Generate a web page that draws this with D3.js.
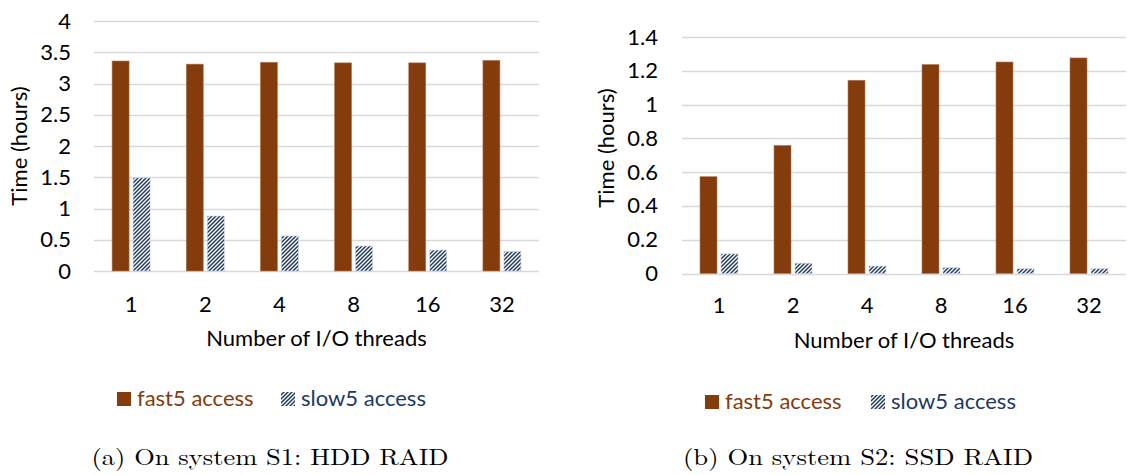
<!DOCTYPE html>
<html><head><meta charset="utf-8">
<script src="https://cdn.jsdelivr.net/npm/d3@7"></script>
<style>
body{margin:0;background:#fff;}
svg{display:block;}
</style></head>
<body>
<svg id="c" width="1127" height="475"></svg>
<script>
const categories = ["1","2","4","8","16","32"];
const s1Fast5 = [3.36, 3.31, 3.34, 3.33, 3.33, 3.37];
const s1Slow5 = [1.49, 0.88, 0.56, 0.40, 0.335, 0.31];
const s2Fast5 = [0.573, 0.758, 1.144, 1.237, 1.252, 1.276];
const s2Slow5 = [0.116, 0.061, 0.044, 0.034, 0.028, 0.028];
const s1Ticks = [0,0.5,1,1.5,2,2.5,3,3.5,4];
const s2Ticks = [0,0.2,0.4,0.6,0.8,1,1.2,1.4];
const seriesNames = ["fast5 access","slow5 access"];
const captions = ["(a) On system S1: HDD RAID","(b) On system S2: SSD RAID"];
const xTitle = "Number of I/O threads";
const yTitle = "Time (hours)";

const FAST = "#843C0C", SLOW = "#203864";
const FONT = "Lato, 'Open Sans', sans-serif";
const FS = 22;
const svg = d3.select("#c");

const defs = svg.append("defs");
const pat = defs.append("pattern").attr("id","hatch").attr("patternUnits","userSpaceOnUse")
  .attr("width",4).attr("height",4);
pat.append("rect").attr("width",4).attr("height",4).attr("fill","#fff");
pat.append("path").attr("d","M-1,1 l2,-2 M0,4 l4,-4 M3,5 l2,-2")
  .attr("stroke",SLOW).attr("stroke-width",1.5);

function chart(cfg){
  const g = svg.append("g");
  const x = d3.scaleBand().domain(categories).range([cfg.x0, cfg.x1]);
  const y = d3.scaleLinear().domain([0, cfg.ymax]).range([cfg.yb, cfg.yt]);
  g.selectAll(".grid").data(cfg.ticks).join("line")
    .attr("x1",cfg.x0).attr("x2",cfg.x1)
    .attr("y1",d=>Math.round(y(d))+0.5).attr("y2",d=>Math.round(y(d))+0.5)
    .attr("stroke","#d9d9d9").attr("stroke-width",1.5);
  const ya = d3.axisLeft(y).tickValues(cfg.ticks).tickSize(0).tickPadding(0)
    .tickFormat(d=>String(d));
  const yg = g.append("g").attr("transform",`translate(${cfg.ylabX},0)`).call(ya);
  yg.select(".domain").remove();
  yg.selectAll("text").attr("font-family",FONT).attr("font-size",FS).attr("fill","#000");
  const xa = d3.axisBottom(x).tickSize(0).tickPadding(0);
  const xg = g.append("g").attr("transform",`translate(0,${cfg.xlabY})`).call(xa);
  xg.select(".domain").remove();
  xg.selectAll("text").attr("font-family",FONT).attr("font-size",FS).attr("fill","#000").attr("dy","0.32em");
  const bw = 17, gap = 4;
  const mid = c => x(c) + x.bandwidth()/2;
  g.selectAll(".f").data(cfg.fast).join("rect")
    .attr("x",(d,i)=>mid(categories[i]) - gap/2 - bw)
    .attr("width",bw).attr("y",d=>y(d)).attr("height",d=>y(0)-y(d))
    .attr("fill",FAST).attr("stroke","#b07a58").attr("stroke-width",0.6);
  g.selectAll(".s").data(cfg.slow).join("rect")
    .attr("x",(d,i)=>mid(categories[i]) + gap/2)
    .attr("width",bw).attr("y",d=>y(d)).attr("height",d=>y(0)-y(d))
    .attr("fill","url(#hatch)").attr("stroke","#c9d0de").attr("stroke-width",0.6);
  g.append("text").attr("x",(cfg.x0+cfg.x1)/2).attr("y",cfg.xTitleY)
    .attr("text-anchor","middle").attr("dy","0.32em")
    .attr("font-family",FONT).attr("font-size",FS).text(xTitle);
  g.append("text").attr("transform",`translate(${cfg.yTitleX},${cfg.yTitleY}) rotate(-90)`)
    .attr("text-anchor","middle").attr("dy","0.32em")
    .attr("font-family",FONT).attr("font-size",FS).text(yTitle);
  const L = g.append("g");
  L.append("rect").attr("x",cfg.leg[0]).attr("y",cfg.legY-14).attr("width",14).attr("height",14).attr("fill",FAST);
  L.append("text").attr("x",cfg.leg[0]+20).attr("y",cfg.legY).attr("font-family",FONT).attr("font-size",FS)
    .attr("fill",FAST).text(seriesNames[0]);
  L.append("rect").attr("x",cfg.leg[1]).attr("y",cfg.legY-14).attr("width",14).attr("height",14).attr("fill","url(#hatch)");
  L.append("text").attr("x",cfg.leg[1]+20).attr("y",cfg.legY).attr("font-family",FONT).attr("font-size",FS)
    .attr("fill",SLOW).text(seriesNames[1]);
  g.append("text").attr("x",cfg.capX).attr("y",465).attr("text-anchor","middle")
    .attr("font-family","'Latin Modern Roman','DejaVu Serif','Liberation Serif',serif").attr("font-size",23)
    .attr("textLength",cfg.capW).attr("lengthAdjust","spacingAndGlyphs")
    .text(cfg.caption);
}

chart({x0:94, x1:539, yt:21, yb:271, ymax:4, ticks:s1Ticks, fast:s1Fast5, slow:s1Slow5,
  ylabX:71, xlabY:305, xTitleY:339, yTitleX:20, yTitleY:146, leg:[117,281], legY:406,
  capX:270, capW:357, caption:captions[0]});
chart({x0:682, x1:1126, yt:37, yb:273.5, ymax:1.4, ticks:s2Ticks, fast:s2Fast5, slow:s2Slow5,
  ylabX:658, xlabY:306, xTitleY:341, yTitleX:607, yTitleY:148, leg:[705,871], legY:409,
  capX:858, capW:350, caption:captions[1]});
</script>
</body></html>
